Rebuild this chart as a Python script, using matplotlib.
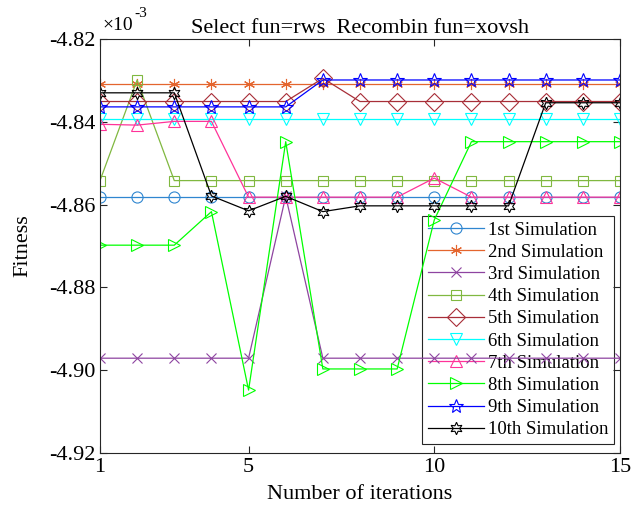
import numpy as np
import matplotlib.pyplot as plt
from matplotlib.ticker import MultipleLocator, FormatStrFormatter

plt.rcParams['font.family'] = ['Liberation Serif', 'DejaVu Serif']
plt.rcParams['axes.unicode_minus'] = False

iterations = np.arange(1, 16)

# fitness values, in units of 1e-3
sim1 = [-4.8582] * 15
sim2 = [-4.8309] * 15
sim3 = [-4.8971, -4.8971, -4.8971, -4.8971, -4.8971, -4.8580, -4.8971, -4.8971,
        -4.8971, -4.8971, -4.8971, -4.8971, -4.8971, -4.8971, -4.8971]
sim4 = [-4.8542, -4.8299, -4.8542, -4.8542, -4.8542, -4.8542, -4.8542, -4.8542,
        -4.8542, -4.8542, -4.8542, -4.8542, -4.8542, -4.8542, -4.8542]
sim5 = [-4.8351, -4.8351, -4.8351, -4.8351, -4.8351, -4.8351, -4.8295, -4.8351,
        -4.8351, -4.8351, -4.8351, -4.8351, -4.8351, -4.8351, -4.8351]
sim6 = [-4.8394] * 15
sim7 = [-4.8406, -4.8408, -4.8399, -4.8399, -4.8582, -4.8582, -4.8582, -4.8582,
        -4.8582, -4.8536, -4.8582, -4.8582, -4.8582, -4.8582, -4.8582]
sim8 = [-4.8698, -4.8698, -4.8698, -4.8617, -4.9048, -4.8448, -4.8997, -4.8997,
        -4.8997, -4.8637, -4.8448, -4.8448, -4.8448, -4.8448, -4.8448]
sim9 = [-4.8364, -4.8364, -4.8364, -4.8364, -4.8364, -4.8364, -4.8299, -4.8299,
        -4.8299, -4.8299, -4.8299, -4.8299, -4.8299, -4.8299, -4.8299]
sim10 = [-4.8330, -4.8330, -4.8330, -4.8579, -4.8615, -4.8580, -4.8617, -4.8603,
         -4.8603, -4.8603, -4.8603, -4.8603, -4.8354, -4.8354, -4.8354]

labels = ['1st Simulation', '2nd Simulation', '3rd Simulation', '4th Simulation',
          '5th Simulation', '6th Simulation', '7th Simulation', '8th Simulation',
          '9th Simulation', '10th Simulation']
series = [sim1, sim2, sim3, sim4, sim5, sim6, sim7, sim8, sim9, sim10]

colors = ['#2F86D0', '#E4652E', '#8E44A0', '#80B840', '#A82E38',
          '#00FFFF', '#FF3399', '#00FF00', '#0000FF', '#000000']
markers = ['o', (6, 2, 0), 'x', 's', 'D', 'v', '^', '>', '*', (6, 1, 0)]
sizes = [8, 8, 6.5, 7, 9, 8, 8, 9, 10, 9]

fig = plt.figure(figsize=(6.32, 5.14), dpi=100)
ax = fig.add_axes([100 / 632, 1 - 453 / 514, 520 / 632, 414 / 514])

for vals, lab, c, m, s in zip(series, labels, colors, markers, sizes):
    ax.plot(iterations, vals, color=c, marker=m, markersize=s,
            markerfacecolor='none', markeredgewidth=0.8, linewidth=0.9, label=lab)

ax.set_xlim(1, 15)
ax.set_ylim(-4.92, -4.82)
ax.set_xticks([1, 5, 10, 15])
ax.yaxis.set_major_locator(MultipleLocator(0.02))
ax.yaxis.set_major_formatter(FormatStrFormatter('%.2f'))
ax.tick_params(direction='in', length=5, labelsize=16, top=True, right=True,
               color='#262626', width=0.8)
for sp in ax.spines.values():
    sp.set_color('#262626')
    sp.set_linewidth(0.8)

# axis multiplier, drawn the way the original shows it
ax.text(0.004, 1.012, '\u00d710', transform=ax.transAxes, fontsize=14,
        ha='left', va='bottom')
ax.text(0.066, 1.045, '-3', transform=ax.transAxes, fontsize=11,
        ha='left', va='bottom')

ax.set_title('Select fun=rws  Recombin fun=xovsh', fontsize=16, pad=4)
ax.set_xlabel('Number of iterations', fontsize=16, labelpad=6)
ax.set_ylabel('Fitness', fontsize=16, labelpad=12)

leg = ax.legend(loc='lower right', bbox_to_anchor=(0.988, 0.022), borderaxespad=0,
                fontsize=13.5, fancybox=False, edgecolor='#262626', framealpha=1,
                handlelength=3.0, handletextpad=0.2, labelspacing=0.27, borderpad=0.3)
leg.get_frame().set_linewidth(0.8)
leg.set_zorder(1)

plt.savefig('out.png')
